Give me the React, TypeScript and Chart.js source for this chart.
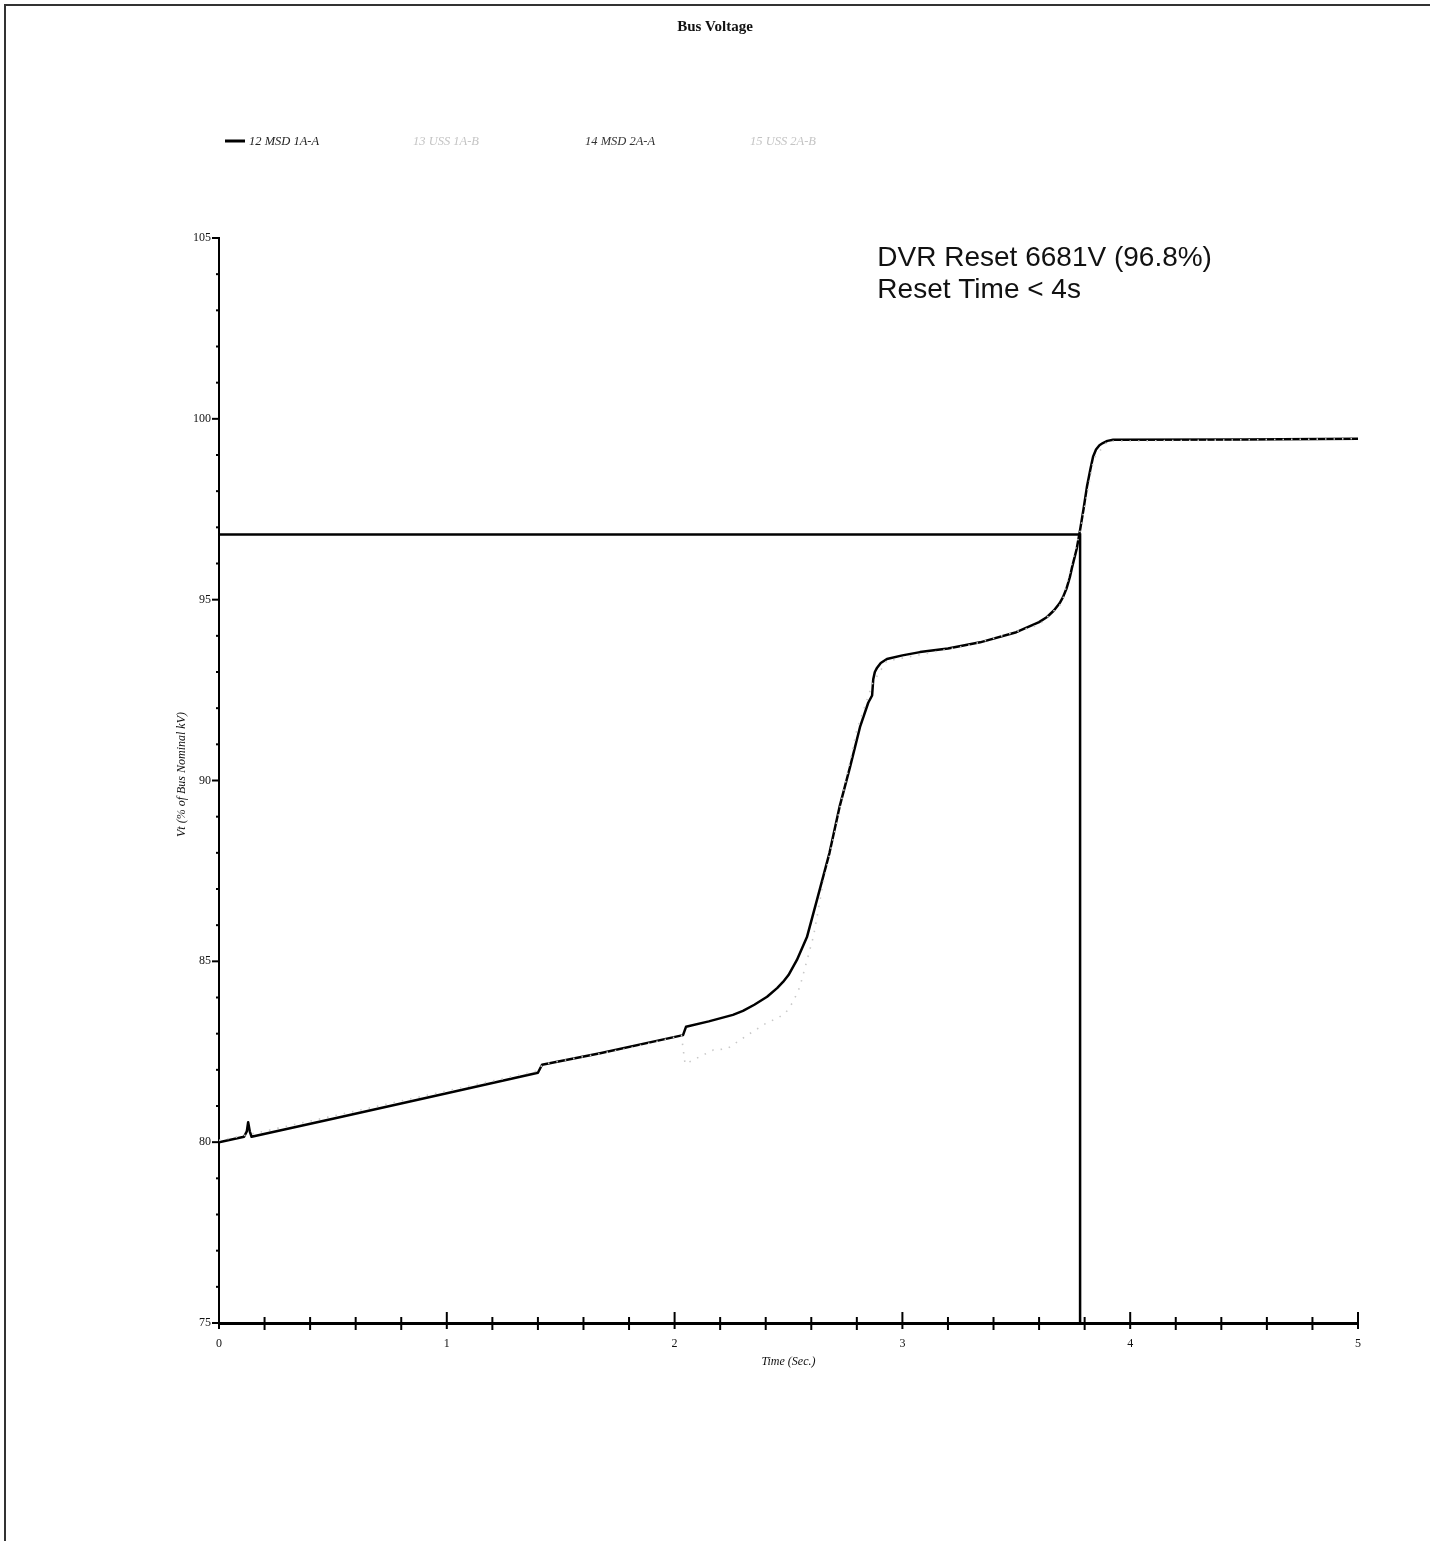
import React, { useEffect, useRef } from 'react';
import { Chart, registerables } from 'chart.js';

Chart.register(...registerables);

// ---------- data ----------
const TITLE = 'Bus Voltage';
const LEGEND_LABELS = ['12 MSD 1A-A', '13 USS 1A-B', '14 MSD 2A-A', '15 USS 2A-B'];
const X_TITLE = 'Time (Sec.)';
const Y_TITLE = 'Vt (% of Bus Nominal kV)';
const NOTE_LINES = ['DVR Reset 6681V (96.8%)', 'Reset Time < 4s'];
const NOTE_POS = { t: 2.89, v: 104.45, lineStep: 0.9 };

const X_MIN = 0;
const X_MAX = 5;
const Y_MIN = 75;
const Y_MAX = 105;
const X_LABEL_STEP = 1;
const X_MINOR_STEP = 0.2;
const Y_LABEL_STEP = 5;
const Y_MINOR_STEP = 1;

// 12 MSD 1A-A (black solid)
const TIME_12 = [
  0, 0.11, 0.122, 0.128, 0.135, 0.143, 0.5, 1.0, 1.4, 1.418, 1.673, 2.037, 2.05, 2.15, 2.256,
  2.3, 2.35, 2.406, 2.45, 2.476, 2.5, 2.537, 2.581, 2.625, 2.68, 2.724, 2.77, 2.814, 2.85,
  2.867, 2.872, 2.879, 2.889, 2.905, 2.932, 3.0, 3.077, 3.2, 3.341, 3.5, 3.6, 3.635, 3.665,
  3.69, 3.705, 3.72, 3.735, 3.745, 3.765, 3.78, 3.795, 3.81, 3.825, 3.837, 3.85, 3.865, 3.88,
  3.9, 3.925, 4.5, 5.0,
];
const VT_12 = [
  80.0, 80.15, 80.3, 80.55, 80.3, 80.15, 80.65, 81.35, 81.92, 82.14, 82.46, 82.96, 83.19,
  83.34, 83.52, 83.63, 83.8, 84.02, 84.26, 84.43, 84.62, 85.04, 85.67, 86.7, 88.0, 89.27,
  90.37, 91.48, 92.15, 92.35, 92.8, 93.0, 93.12, 93.25, 93.36, 93.46, 93.55, 93.65, 93.82,
  94.1, 94.38, 94.52, 94.7, 94.9, 95.07, 95.3, 95.62, 95.9, 96.4, 96.93, 97.5, 98.12, 98.6,
  98.95, 99.15, 99.27, 99.33, 99.39, 99.42, 99.43, 99.45,
];

// 13 USS 1A-B (faint dotted)
const TIME_13 = [
  0, 0.14, 0.7, 1.4, 1.42, 1.8, 2.03, 2.046, 2.17, 2.23, 2.327, 2.397, 2.46, 2.49, 2.52,
  2.55, 2.58, 2.61, 2.65, 2.7, 2.8, 2.87, 2.93, 3.3, 3.6, 3.7, 3.78, 3.84, 3.9, 5.0,
];
const VT_13 = [
  80.05, 80.22, 81.0, 81.97, 82.15, 82.6, 82.95, 82.16, 82.55, 82.58, 82.99, 83.27, 83.46,
  83.6, 83.88, 84.3, 85.0, 85.7, 87.1, 88.5, 91.4, 92.7, 93.3, 93.75, 94.3, 94.9, 96.9,
  98.9, 99.38, 99.45,
];

// DVR reset threshold trace
const RESET_T = [0, 3.78, 3.78];
const RESET_V = [96.8, 96.8, 75];

const SERIF = '"Liberation Serif", "Times New Roman", serif';
const SANS = '"Liberation Sans", Arial, sans-serif';

const toPoints = (xs: number[], ys: number[]) => xs.map((x, i) => ({ x, y: ys[i] }));

const decorPlugin = {
  id: 'decor',
  afterDraw(chart: any) {
    const ctx = chart.ctx as CanvasRenderingContext2D;
    const xs = chart.scales.x;
    const ys = chart.scales.y;
    const area = chart.chartArea;
    ctx.save();

    // page frame
    ctx.strokeStyle = '#333';
    ctx.lineWidth = 2;
    ctx.beginPath();
    ctx.moveTo(5, chart.height);
    ctx.lineTo(5, 5);
    ctx.lineTo(chart.width, 5);
    ctx.stroke();

    // title
    ctx.fillStyle = '#111';
    ctx.font = `bold 15px ${SERIF}`;
    ctx.textAlign = 'center';
    ctx.textBaseline = 'middle';
    ctx.fillText(TITLE, chart.width / 2, 27);

    // legend
    const legendX = [249, 413, 585, 750];
    const legendColors = ['#222', '#c4c4c4', '#333', '#c4c4c4'];
    ctx.strokeStyle = '#000';
    ctx.lineWidth = 3;
    ctx.beginPath();
    ctx.moveTo(225, 141);
    ctx.lineTo(245, 141);
    ctx.stroke();
    ctx.font = `italic 12.5px ${SERIF}`;
    ctx.textAlign = 'left';
    LEGEND_LABELS.forEach((lab, i) => {
      ctx.fillStyle = legendColors[i];
      ctx.fillText(lab, legendX[i], 142);
    });

    // tick marks
    ctx.strokeStyle = '#000';
    ctx.lineWidth = 2;
    const axisY = area.bottom;
    const nx = Math.round((X_MAX - X_MIN) / X_MINOR_STEP);
    for (let i = 0; i <= nx; i++) {
      const v = X_MIN + i * X_MINOR_STEP;
      const px = xs.getPixelForValue(v);
      const major = Math.abs(v / X_LABEL_STEP - Math.round(v / X_LABEL_STEP)) < 1e-6;
      ctx.beginPath();
      ctx.moveTo(px, axisY - (major ? 11 : 6));
      ctx.lineTo(px, axisY + (major ? 6 : 7));
      ctx.stroke();
    }
    const axisX = area.left;
    const ny = Math.round((Y_MAX - Y_MIN) / Y_MINOR_STEP);
    for (let i = 0; i <= ny; i++) {
      const v = Y_MIN + i * Y_MINOR_STEP;
      const py = ys.getPixelForValue(v);
      const major = (v - Y_MIN) % Y_LABEL_STEP === 0;
      ctx.beginPath();
      ctx.moveTo(axisX - (major ? 7 : 3), py);
      ctx.lineTo(axisX, py);
      ctx.stroke();
    }

    // axis titles
    ctx.fillStyle = '#111';
    ctx.font = `italic 12px ${SERIF}`;
    ctx.textAlign = 'center';
    ctx.textBaseline = 'middle';
    ctx.fillText(X_TITLE, (area.left + area.right) / 2, area.bottom + 39);
    ctx.save();
    ctx.translate(area.left - 37, (area.top + area.bottom) / 2 - 6);
    ctx.rotate(-Math.PI / 2);
    ctx.fillText(Y_TITLE, 0, 0);
    ctx.restore();

    // annotation
    ctx.fillStyle = '#111';
    ctx.font = `28px ${SANS}`;
    ctx.textAlign = 'left';
    ctx.textBaseline = 'middle';
    NOTE_LINES.forEach((line, i) => {
      ctx.fillText(
        line,
        xs.getPixelForValue(NOTE_POS.t),
        ys.getPixelForValue(NOTE_POS.v - i * NOTE_POS.lineStep)
      );
    });

    ctx.restore();
  },
};

export default function App() {
  const canvasRef = useRef<HTMLCanvasElement | null>(null);

  useEffect(() => {
    document.body.style.margin = '0';
    const canvas = canvasRef.current;
    if (!canvas) return;
    const chart = new Chart(canvas, {
      type: 'line',
      data: {
        datasets: [
          {
            label: LEGEND_LABELS[1],
            data: toPoints(TIME_13, VT_13),
            borderColor: '#c8c8c8',
            borderWidth: 1.6,
            borderDash: [1.5, 7],
            pointRadius: 0,
            fill: false,
            tension: 0,
          },
          {
            label: LEGEND_LABELS[0],
            data: toPoints(TIME_12, VT_12),
            borderColor: '#000',
            borderWidth: 2.5,
            pointRadius: 0,
            fill: false,
            tension: 0,
            borderJoinStyle: 'round',
          },
          {
            label: 'DVR Reset',
            data: toPoints(RESET_T, RESET_V),
            borderColor: '#000',
            borderWidth: 2.5,
            pointRadius: 0,
            fill: false,
            tension: 0,
          },
        ],
      },
      options: {
        animation: false,
        responsive: false,
        events: [],
        layout: { padding: { top: 238, right: 72, bottom: 118, left: 0 } },
        plugins: {
          legend: { display: false },
          title: { display: false },
          tooltip: { enabled: false },
        },
        scales: {
          x: {
            type: 'linear',
            min: X_MIN,
            max: X_MAX,
            grid: { display: false, drawTicks: false },
            border: { display: true, color: '#000', width: 3 },
            ticks: {
              stepSize: X_LABEL_STEP,
              color: '#111',
              font: { family: SERIF, size: 12 },
              padding: 14,
              maxRotation: 0,
            },
            afterFit: (s: any) => {
              s.height = 100;
            },
          },
          y: {
            type: 'linear',
            min: Y_MIN,
            max: Y_MAX,
            grid: { display: false, drawTicks: false },
            border: { display: true, color: '#000', width: 2 },
            ticks: {
              stepSize: Y_LABEL_STEP,
              color: '#111',
              font: { family: SERIF, size: 12 },
              padding: 8,
            },
            afterFit: (s: any) => {
              s.width = 219;
            },
          },
        },
      },
      plugins: [decorPlugin],
    });
    return () => chart.destroy();
  }, []);

  return (
    <div style={{ width: 1430, height: 1541, background: '#fff' }}>
      <canvas ref={canvasRef} width={1430} height={1541} style={{ display: 'block' }} />
    </div>
  );
}
